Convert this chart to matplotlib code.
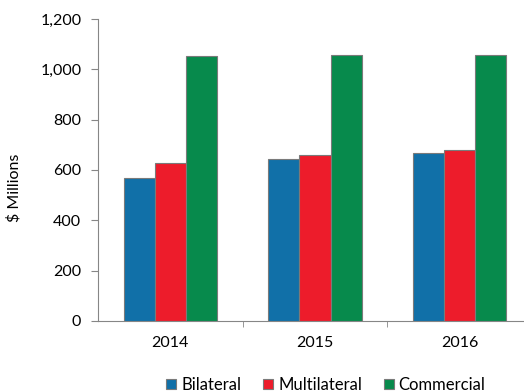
import numpy as np
import matplotlib.pyplot as plt

# Dati
years = ['2014', '2015', '2016']
bilateral = [568, 644, 669]
multilateral = [629, 658, 678]
commercial = [1053, 1055, 1055]

series = ['Bilateral', 'Multilateral', 'Commercial']
colors = ['#1170A8', '#ED1C2B', '#078A4C']

plt.rcParams['font.family'] = ['Lato', 'DejaVu Sans']

fig = plt.figure(figsize=(5.24, 3.92), dpi=100)
ax = fig.add_axes([98 / 524, 1 - 321 / 392, 434 / 524, 302 / 392])

x = np.arange(len(years))
w = 0.215
for i, (vals, name, col) in enumerate(zip([bilateral, multilateral, commercial], series, colors)):
    ax.bar(x + (i - 1) * w, vals, width=w, color=col, edgecolor='#7a7a7a',
           linewidth=0.8, label=name, zorder=3)

ax.set_xlim(-0.5, 2.5)
ax.set_ylim(0, 1200)
ax.set_yticks(range(0, 1201, 200))
ax.set_yticklabels([f'{v:,}' for v in range(0, 1201, 200)])
ax.set_xticks(x)
ax.set_xticklabels(years)
ax.set_xticks([0.5, 1.5], minor=True)
ax.tick_params(axis='x', which='major', length=0, pad=11, labelsize=11.5)
ax.tick_params(axis='x', which='minor', length=4, color='#868686')
ax.tick_params(axis='y', length=5, color='#868686', labelsize=11.5, pad=7)

for s in ['top', 'right']:
    ax.spines[s].set_visible(False)
for s in ['left', 'bottom']:
    ax.spines[s].set_color('#868686')

ax.set_ylabel('$ Millions', fontsize=11.5)
ax.yaxis.set_label_coords(-0.177, 0.44)

fig.legend(loc='center', bbox_to_anchor=(326 / 524, 1 - 385 / 392), ncol=3,
           frameon=False, fontsize=12, handlelength=0.6, handleheight=0.6,
           handletextpad=0.3, columnspacing=1.3)

fig.savefig('out.png', dpi=100)
